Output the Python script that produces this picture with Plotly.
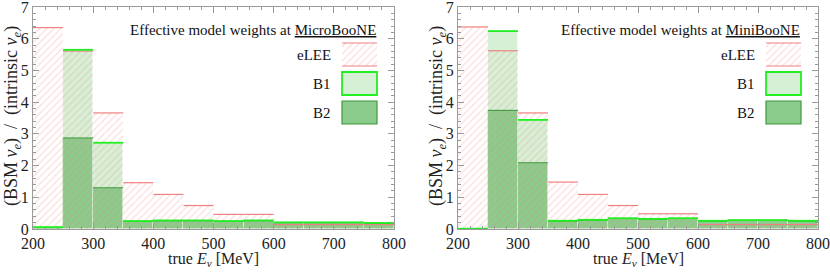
import plotly.graph_objects as go

# ---------------- data ----------------
bin_edges = [200, 250, 300, 350, 400, 450, 500, 550, 600, 650, 700, 750, 800]

elee_micro = [6.35, 5.61, 3.66, 1.46, 1.09, 0.74, 0.46, 0.46, 0.14, 0.14, 0.14, 0.14]
b1_micro = [0.06, 5.65, 2.72, 0.25, 0.27, 0.27, 0.25, 0.27, 0.21, 0.21, 0.21, 0.19]
b2_micro = [0.04, 2.87, 1.30, 0.24, 0.26, 0.26, 0.24, 0.26, 0.20, 0.20, 0.20, 0.18]

elee_mini = [6.37, 5.62, 3.66, 1.48, 1.09, 0.74, 0.48, 0.48, 0.14, 0.14, 0.14, 0.14]
b1_mini = [0.01, 6.24, 3.44, 0.26, 0.29, 0.34, 0.32, 0.34, 0.26, 0.28, 0.28, 0.26]
b2_mini = [0.01, 3.74, 2.09, 0.25, 0.28, 0.33, 0.31, 0.33, 0.25, 0.27, 0.27, 0.25]

panel_titles = ["Effective model weights at <u>MicroBooNE</u>",
                "Effective model weights at <u>MiniBooNE</u>"]
legend_names = ["eLEE", "B1", "B2"]
x_ticks = [200, 300, 400, 500, 600, 700, 800]
y_ticks = [0, 1, 2, 3, 4, 5, 6, 7]

# ---------------- style ----------------
FONT = "Liberation Serif"
C_B1_FILL = "#d6f0d6"
C_B1_LINE = "#22ee22"
C_B2_FILL = "#8bcb8b"
C_B2_LINE = "#3c9a3c"
C_E_HATCH = "rgba(238,130,130,0.58)"
C_E_LINE = "#f08080"
FRAME = "#9a9a9a"

W, H = 830, 272
panels_px = [(33, 394), (458, 818)]
top_px, bot_px = 7, 229

centers = [(a + b) / 2 for a, b in zip(bin_edges[:-1], bin_edges[1:])]
widths = [b - a for a, b in zip(bin_edges[:-1], bin_edges[1:])]


def segs(vals):
    xs, ys = [], []
    for a, b, v in zip(bin_edges[:-1], bin_edges[1:], vals):
        xs += [a, b, None]
        ys += [v, v, None]
    return xs, ys


fig = go.Figure()
datasets = [(elee_micro, b1_micro, b2_micro), (elee_mini, b1_mini, b2_mini)]

for i, (el, b1, b2) in enumerate(datasets):
    xa = "x" if i == 0 else "x2"
    ya = "y" if i == 0 else "y2"
    fig.add_trace(go.Bar(x=centers, y=b1, width=widths, xaxis=xa, yaxis=ya,
                         marker=dict(color=C_B1_FILL,
                                     line=dict(color="rgba(255,255,255,0.7)", width=0.8)),
                         showlegend=False, hoverinfo="skip"))
    fig.add_trace(go.Bar(x=centers, y=b2, width=widths, xaxis=xa, yaxis=ya,
                         marker=dict(color=C_B2_FILL,
                                     line=dict(color="rgba(255,255,255,0.5)", width=0.8)),
                         showlegend=False, hoverinfo="skip"))
    fig.add_trace(go.Bar(x=centers, y=el, width=widths, xaxis=xa, yaxis=ya,
                         marker=dict(color="rgba(255,255,255,0)",
                                     line=dict(width=0),
                                     pattern=dict(shape="/", fgcolor=C_E_HATCH,
                                                  bgcolor="rgba(255,255,255,0)",
                                                  size=5, solidity=0.22,
                                                  fillmode="overlay")),
                         showlegend=False, hoverinfo="skip"))
    sx, sy = segs(b2)
    fig.add_trace(go.Scatter(x=sx, y=sy, mode="lines", xaxis=xa, yaxis=ya,
                             line=dict(color=C_B2_LINE, width=1), showlegend=False,
                             hoverinfo="skip"))
    sx, sy = segs(el)
    fig.add_trace(go.Scatter(x=sx, y=sy, mode="lines", xaxis=xa, yaxis=ya,
                             line=dict(color=C_E_LINE, width=1.2), showlegend=False,
                             hoverinfo="skip"))
    sx, sy = segs(b1)
    fig.add_trace(go.Scatter(x=sx, y=sy, mode="lines", xaxis=xa, yaxis=ya,
                             line=dict(color=C_B1_LINE, width=1.8), showlegend=False,
                             hoverinfo="skip"))

# ---------------- legend (custom, in pixel overlay axes) ----------------
sw_w = 35
for i, (x0, x1) in enumerate(panels_px):
    sx1 = x1 - 17
    sx0 = sx1 - sw_w
    # eLEE swatch (hatched)
    fig.add_trace(go.Scatter(x=[sx0, sx1, sx1, sx0, sx0], y=[43, 43, 66, 66, 43],
                             mode="lines", fill="toself", xaxis="x3", yaxis="y3",
                             line=dict(width=0, color="rgba(0,0,0,0)"),
                             fillcolor="rgba(255,255,255,0)",
                             fillpattern=dict(shape="/", fgcolor=C_E_HATCH,
                                              bgcolor="rgba(255,255,255,0)",
                                              size=5, solidity=0.22),
                             showlegend=False, hoverinfo="skip"))
    for yy in (43, 66):
        fig.add_shape(type="line", xref="x3", yref="y3", x0=sx0, x1=sx1, y0=yy, y1=yy,
                      line=dict(color=C_E_LINE, width=1.2))
    fig.add_shape(type="rect", xref="x3", yref="y3", x0=sx0, x1=sx1, y0=72, y1=95,
                  fillcolor=C_B1_FILL, line=dict(color=C_B1_LINE, width=1.8))
    fig.add_shape(type="rect", xref="x3", yref="y3", x0=sx0, x1=sx1, y0=101, y1=124,
                  fillcolor=C_B2_FILL, line=dict(color=C_B2_LINE, width=1.2))
    for name, yc in zip(legend_names, (55, 84, 113)):
        fig.add_annotation(xref="x3", yref="y3", x=sx0 - 9, y=yc, text=name,
                           showarrow=False, xanchor="right", yanchor="middle",
                           font=dict(family=FONT, size=15, color="#111"))
    fig.add_annotation(xref="x3", yref="y3", x=sx1 + 1, y=30, text=panel_titles[i],
                       showarrow=False, xanchor="right", yanchor="middle",
                       font=dict(family=FONT, size=15, color="#111"))
    # axis titles
    fig.add_annotation(xref="x3", yref="y3", x=(x0 + x1) / 2 + 0, y=259,
                       text="true <i>E</i><sub><i>ν</i></sub> [MeV]",
                       showarrow=False, xanchor="center", yanchor="middle",
                       font=dict(family=FONT, size=16, color="#222"))
    fig.add_annotation(xref="x3", yref="y3", x=x0 - 21, y=116,
                       text="(BSM <i>ν</i><sub><i>e</i></sub>)  /  (intrinsic <i>ν</i><sub><i>e</i></sub>)",
                       showarrow=False, textangle=-90, xanchor="center", yanchor="middle",
                       font=dict(family=FONT, size=18, color="#222"))


def xdom(p):
    return [p[0] / W, p[1] / W]


ydom = [1 - bot_px / H, 1 - top_px / H]

axis_common = dict(showline=True, linecolor=FRAME, linewidth=1, mirror="allticks",
                   ticks="inside", ticklen=6, tickcolor=FRAME, showgrid=False,
                   zeroline=False, tickfont=dict(family=FONT, size=16, color="#222"),
                   automargin=False, ticklabelposition="outside",
                   ticklabeloverflow="allow")

fig.update_layout(
    width=W, height=H, margin=dict(l=0, r=0, t=0, b=0),
    paper_bgcolor="white", plot_bgcolor="rgba(0,0,0,0)",
    barmode="overlay", bargap=0, showlegend=False,
    font=dict(family=FONT),
    xaxis=dict(domain=xdom(panels_px[0]), range=[200, 800], anchor="y",
               tickvals=x_ticks, minor=dict(dtick=20, ticks="inside", ticklen=3,
                                            tickcolor=FRAME, showgrid=False),
               **axis_common),
    yaxis=dict(domain=ydom, range=[0, 7], anchor="x", tickvals=y_ticks,
               minor=dict(dtick=0.2, ticks="inside", ticklen=3, tickcolor=FRAME,
                          showgrid=False),
               **axis_common),
    xaxis2=dict(domain=xdom(panels_px[1]), range=[200, 800], anchor="y2",
                tickvals=x_ticks, minor=dict(dtick=20, ticks="inside", ticklen=3,
                                             tickcolor=FRAME, showgrid=False),
                **axis_common),
    yaxis2=dict(domain=ydom, range=[0, 7], anchor="x2", tickvals=y_ticks,
                minor=dict(dtick=0.2, ticks="inside", ticklen=3, tickcolor=FRAME,
                           showgrid=False),
                **axis_common),
    xaxis3=dict(domain=[0, 1], range=[0, W], visible=False, anchor="y3", fixedrange=True),
    yaxis3=dict(domain=[0, 1], range=[H, 0], visible=False, anchor="x3", fixedrange=True),
)

fig.write_html("out.html", config={"displayModeBar": False},
               post_script="document.body.style.margin='0';document.body.style.overflow='hidden';")
